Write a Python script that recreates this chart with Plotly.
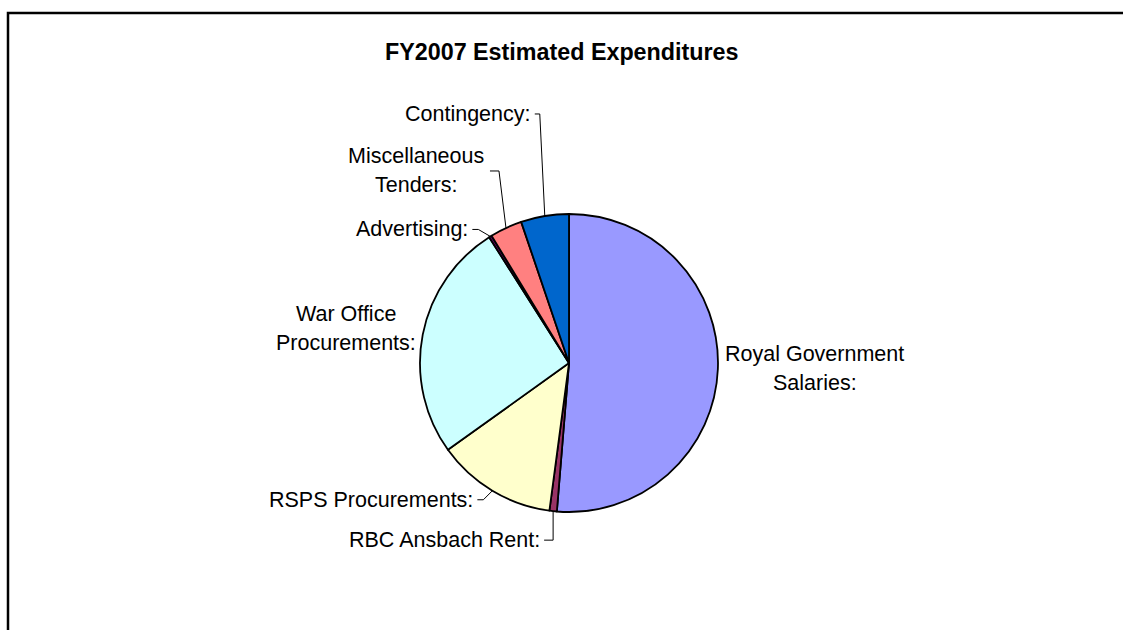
import math
import plotly.graph_objects as go

# ---- data ----
categories = ["Royal Government Salaries", "RBC Ansbach Rent", "RSPS Procurements",
              "War Office Procurements", "Advertising", "Miscellaneous Tenders", "Contingency"]
label_lines = [["Royal Government", "Salaries:"], ["RBC Ansbach Rent:"], ["RSPS Procurements:"],
               ["War Office", "Procurements:"], ["Advertising:"], ["Miscellaneous", "Tenders:"],
               ["Contingency:"]]
values = [51.3, 0.8, 13.0, 25.9, 0.3, 3.5, 5.2]
colors = ["#9999FF", "#993366", "#FFFFCC", "#CCFFFF", "#660066", "#FF8080", "#0066CC"]

W, H = 1123, 630
CX, CY, R = 569, 363, 149  # pie centre / radius in pixels (layout)
FONT = "Liberation Sans, Arial, sans-serif"
LINE_GAP = 29

def px(x):
    return x / W

def py(y):
    return 1 - y / H

fig = go.Figure()
fig.add_trace(go.Pie(
    labels=categories, values=values, sort=False, direction="clockwise", rotation=0,
    marker=dict(colors=colors, line=dict(color="black", width=1.8)),
    textinfo="none", showlegend=False,
    domain=dict(x=[px(CX - R), px(CX + R)], y=[py(CY + R), py(CY - R)]),
))

# anchor points on the pie edge at each slice's mid-angle (from data)
total = sum(values)
anchors = []
cum = 0.0
for v in values:
    mid = (cum + v / 2) / total * 2 * math.pi
    anchors.append((CX + R * math.sin(mid), CY - R * math.cos(mid)))
    cum += v

# label layout: elbow offset from anchor, leader end offset, text offset, xanchor
layout_spec = {
    0: dict(elbow=None, text=(97, -1), xanchor="center"),
    1: dict(elbow=(0, 29), lead=(-9, 29), text=(-11, 29), xanchor="right"),
    2: dict(elbow=(-9, 9), lead=(-15, 9), text=(-17, 9), xanchor="right"),
    3: dict(elbow=None, text=(-77, -6), xanchor="center"),
    4: dict(elbow=(-12, -7), lead=(-18, -7), text=(-20, -7), xanchor="right"),
    5: dict(elbow=(-7, -57), lead=(-16, -57), text=(-89.5, -57), xanchor="center"),
    6: dict(elbow=(-5, -102), lead=(-10, -102), text=(-12, -102), xanchor="right"),
}

shapes = []
annotations = []
for i, (ax_, ay_) in enumerate(anchors):
    spec = layout_spec[i]
    tx, ty = ax_ + spec["text"][0], ay_ + spec["text"][1]
    if spec["elbow"] is not None:
        ex, ey = ax_ + spec["elbow"][0], ay_ + spec["elbow"][1]
        lx, ly = ax_ + spec["lead"][0], ay_ + spec["lead"][1]
        shapes.append(dict(
            type="path", xref="paper", yref="paper",
            path=f"M {px(lx)} {py(ly)} L {px(ex)} {py(ey)} L {px(ax_)} {py(ay_)}",
            line=dict(color="black", width=1),
        ))
    lines = label_lines[i]
    n = len(lines)
    for k, line in enumerate(lines):
        yy = ty + (k - (n - 1) / 2) * LINE_GAP
        annotations.append(dict(
            text=line, x=px(tx), y=py(yy), xref="paper", yref="paper",
            xanchor=spec["xanchor"], yanchor="middle", showarrow=False,
            font=dict(family=FONT, size=21.5, color="black"),
        ))

# chart border (left and top visible)
shapes.append(dict(type="path", xref="paper", yref="paper",
                   path=f"M {px(8)} {py(630)} L {px(8)} {py(13)} L {px(1123)} {py(13)}",
                   line=dict(color="black", width=2.5)))

annotations.append(dict(
    text="<b>FY2007 Estimated Expenditures</b>", x=px(561), y=py(52), xref="paper", yref="paper",
    xanchor="center", yanchor="middle", showarrow=False,
    font=dict(family=FONT, size=23.3, color="black"),
))

fig.update_layout(
    width=W, height=H, margin=dict(l=0, r=0, t=0, b=0),
    paper_bgcolor="white", plot_bgcolor="white",
    shapes=shapes, annotations=annotations,
)

fig.write_html("out.html", config={"displayModeBar": False},
               post_script="document.body.style.margin='0';document.body.style.overflow='hidden';")
